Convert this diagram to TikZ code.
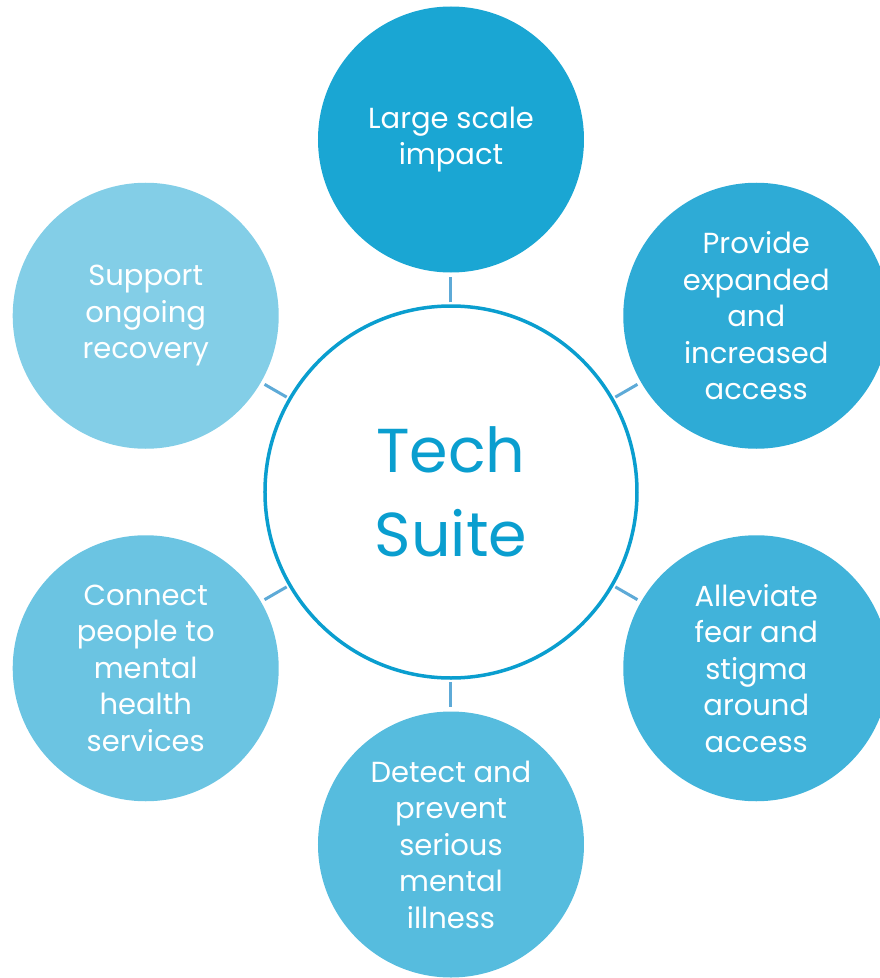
\documentclass[tikz,border=0pt]{standalone}
\usepackage{fontspec}
\setmainfont{Poppins}
\usepackage{tikz}
\definecolor{hubblue}{HTML}{0A9ECF}
\definecolor{linkblue}{HTML}{5EAAD7}
\definecolor{blueA}{HTML}{1AA6D3}
\definecolor{blueB}{HTML}{2EABD6}
\definecolor{blueC}{HTML}{41B3DA}
\definecolor{blueD}{HTML}{56BCDE}
\definecolor{blueE}{HTML}{6BC4E2}
\definecolor{blueF}{HTML}{83CEE7}

\begin{document}
\begin{tikzpicture}[x=1pt,y=1pt]
\tikzset{
	hub node/.style = {circle, draw = hubblue, line width = 3.5, fill = white, minimum size = 372, inner sep = 0, text = hubblue, align = center, font = \fontsize{62}{84}\selectfont},
	goal node/.style = {circle, minimum size = 266, inner sep = 0, text = white, align = center, font = \fontsize{29}{36.5}\selectfont},
	link/.style = {draw = linkblue, line width = 3, shorten > = 4, shorten < = 2}
}
\useasboundingbox (-451,-486) rectangle (429,492);
\clip (-451,-486) rectangle (429,492);

\node(hub)[hub node]{Tech\\Suite};

\node(s1)[goal node, fill = blueA] at (90:352.5) {Large scale\\impact};
\node(s2)[goal node, fill = blueB] at (30:352.5) {Provide\\expanded\\and\\increased\\access};
\node(s3)[goal node, fill = blueC] at (-30:352.5) {Alleviate\\fear and\\stigma\\around\\access};
\node(s4)[goal node, fill = blueD] at (-90:352.5) {Detect and\\prevent\\serious\\mental\\illness};
\node(s5)[goal node, fill = blueE] at (210:352.5) {Connect\\people to\\mental\\health\\services};
\node(s6)[goal node, fill = blueF] at (150:352.5) {Support\\ongoing\\recovery};

\foreach \s in {s1,s2,s3,s4,s5,s6}
	\draw[link] (hub) -- (\s);
\end{tikzpicture}
\end{document}
